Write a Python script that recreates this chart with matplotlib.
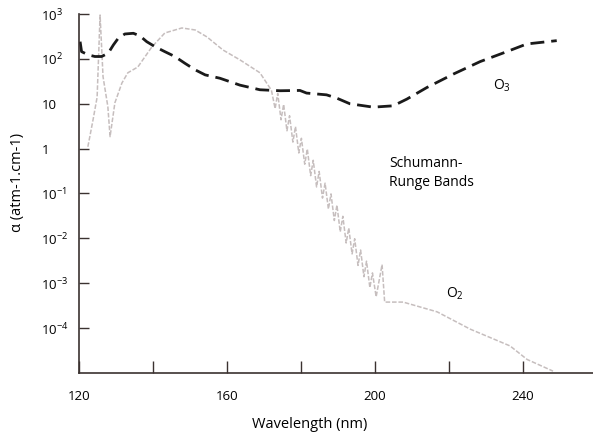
import matplotlib.pyplot as plt

plt.rcParams['font.family'] = ['Open Sans', 'DejaVu Sans']
plt.rcParams['mathtext.default'] = 'regular'

# O3 absorption (dashed curve)
o3_wl = [120.3, 120.7, 122.5, 124.3, 126.1, 127.9, 129.3, 130.6, 132.4, 134.7,
         136.5, 138.3, 140.5, 143.2, 145.9, 148.6, 151.4, 154.1, 158.1, 163.5,
         168.9, 174.3, 179.7, 181.5, 186.9, 189.6, 193.2, 199.5, 204.9, 208.6,
         214.0, 221.2, 228.4, 235.6, 241.0, 249.1]
o3_abs = [242, 145, 123, 113, 113, 134, 205, 288, 359, 372,
          324, 242, 188, 145, 113, 80, 57, 44, 37, 26,
          20.5, 19.5, 19.8, 17.3, 15.8, 13.4, 10, 8.4, 9.0, 12.7,
          23, 46, 87, 145, 215, 255]

# O2 absorption (light grey curve, Schumann-Runge bands in the middle)
o2_wl = [122.4, 123.8, 124.9, 125.7, 126.5, 127.8, 128.4, 129.7, 131.6, 133.2,
         135.9, 139.7, 143.2, 147.8, 151.4, 154.6, 158.9, 163.5, 168.9, 172.0,
         173.0, 173.7, 174.6, 175.3, 176.2, 176.9, 177.8, 178.5, 179.4, 180.1,
         181.0, 181.7, 182.6, 183.3, 184.2, 184.9, 185.8, 186.5, 187.4, 188.1,
         189.0, 189.7, 190.6, 191.3, 192.2, 192.9, 193.8, 194.5, 195.4, 196.1,
         197.0, 197.7, 198.6, 199.3, 200.3, 201.9, 202.6, 204.1, 207.6, 216.8,
         225.7, 236.5, 241.1, 248.1]
o2_abs = [1.1, 4.4, 14, 950, 40, 8.6, 1.85, 10.5, 29, 49,
          66, 185, 378, 489, 441, 308, 158, 95, 49, 20,
          7.8, 17, 4.4, 9.7, 2.5, 5.4, 1.4, 3.1, 0.8, 1.7,
          0.45, 0.98, 0.25, 0.55, 0.14, 0.31, 0.079, 0.17, 0.045, 0.098,
          0.025, 0.055, 0.014, 0.031, 0.0079, 0.017, 0.0045, 0.0098, 0.0025, 0.0055,
          0.0014, 0.0031, 0.0008, 0.0017, 5e-4, 2.6e-3, 3.8e-4, 3.8e-4, 3.8e-4, 2.3e-4,
          9.5e-5, 4.0e-5, 2.0e-5, 1.1e-5]

ytick_vals = [1e-4, 1e-3, 1e-2, 1e-1, 1, 10, 1e2, 1e3]
ytick_labels = ['$10^{-4}$', '$10^{-3}$', '$10^{-2}$', '$10^{-1}$', '1', '10',
                '$10^{2}$', '$10^{3}$']
xtick_vals = [120, 140, 160, 180, 200, 220, 240]
xtick_labels = ['120', '', '160', '', '200', '', '240']

fig = plt.figure(figsize=(5.93, 4.34), dpi=100)
ax = fig.add_axes([0.1332, 0.1406, 0.8668, 0.8271])

ax.plot(o2_wl, o2_abs, color='#c6bebe', lw=1.1, ls=(0, (3, 1.2)))
ax.plot(o3_wl, o3_abs, color='#1a1a1a', lw=2.0, ls=(0, (5, 2.5)))

ax.set_yscale('log')
ax.set_xlim(120, 258.9)
ax.set_ylim(1e-5, 1e3)
ax.set_yticks(ytick_vals)
ax.set_yticklabels(ytick_labels)
ax.minorticks_off()
ax.set_xticks(xtick_vals)
ax.set_xticklabels(xtick_labels)

axis_col = '#3b3230'
for s in ['top', 'right']:
    ax.spines[s].set_visible(False)
for s in ['left', 'bottom']:
    ax.spines[s].set_color(axis_col)
    ax.spines[s].set_linewidth(1.2)
ax.tick_params(axis='y', direction='in', length=7.5, width=1.0, color=axis_col,
               pad=27, labelsize=9.5)
ax.tick_params(axis='x', direction='in', length=9, width=1.0, color=axis_col,
               pad=12, labelsize=9.5)
for lab in ax.get_yticklabels():
    lab.set_ha('left')

ax.text(234.3, 25, 'O$_3$', fontsize=10, ha='center', va='center')
ax.text(221.6, 5.7e-4, 'O$_2$', fontsize=10, ha='center', va='center')
ax.text(203.8, 0.29, 'Schumann-\nRunge Bands', fontsize=10, ha='left',
        va='center', linespacing=1.35)

fig.text(18 / 593, 1 - 182 / 434, 'α (atm-1.cm-1)', rotation=90,
         ha='center', va='center', fontsize=10.5)
fig.text(310 / 593, 1 - 425 / 434, 'Wavelength (nm)', ha='center', va='center',
         fontsize=10.5)

fig.savefig('out.png', dpi=100)
